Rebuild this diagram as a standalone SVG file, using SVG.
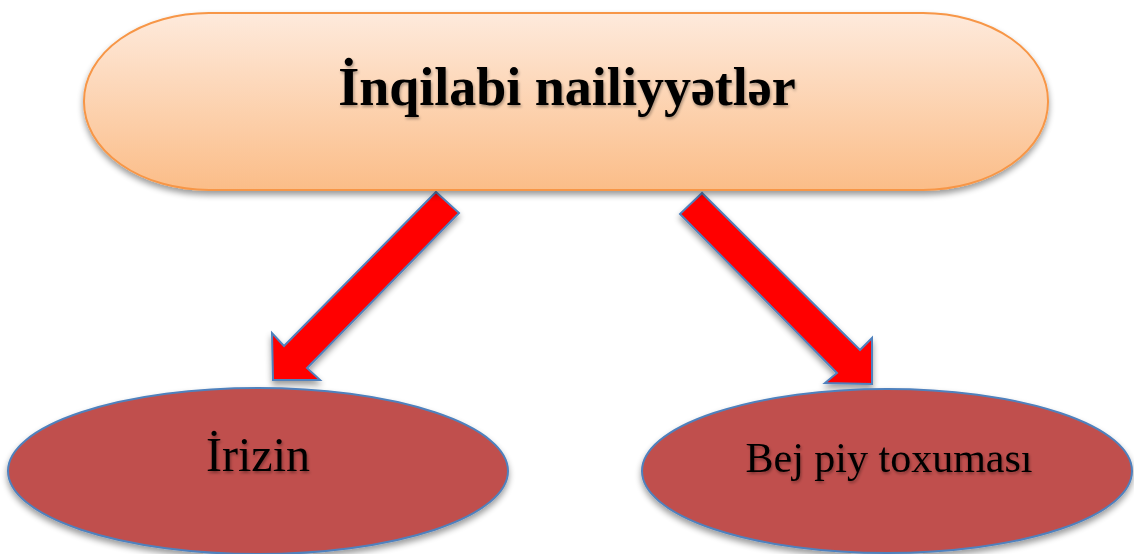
<svg xmlns="http://www.w3.org/2000/svg" width="1134" height="554" viewBox="0 0 1134 554">
<defs>
<linearGradient id="peach" x1="0" y1="0" x2="0" y2="1">
<stop offset="0" stop-color="#feeadc"/>
<stop offset="1" stop-color="#fbbd88"/>
</linearGradient>
<filter id="sh" x="-10%" y="-10%" width="120%" height="130%">
<feGaussianBlur in="SourceAlpha" stdDeviation="3"/>
<feOffset dx="0" dy="4" result="b"/>
<feComponentTransfer><feFuncA type="linear" slope="0.4"/></feComponentTransfer>
<feMerge><feMergeNode/><feMergeNode in="SourceGraphic"/></feMerge>
</filter>
<filter id="tsh" x="-10%" y="-10%" width="120%" height="130%">
<feGaussianBlur in="SourceAlpha" stdDeviation="1.5"/>
<feOffset dx="1" dy="2"/>
<feComponentTransfer><feFuncA type="linear" slope="0.35"/></feComponentTransfer>
<feMerge><feMergeNode/><feMergeNode in="SourceGraphic"/></feMerge>
</filter>
</defs>
<style>
.pill{fill:url(#peach);stroke:#f79646;stroke-width:2}
.oval{fill:#c0504d;stroke:#4f81bd;stroke-width:2}
.arrow{fill:#ff0000;stroke:#4f81bd;stroke-width:2;stroke-linejoin:miter}
.t{font-family:"Liberation Serif","Times New Roman",serif;fill:#000;text-anchor:middle}
</style>
<rect width="1134" height="554" fill="#ffffff"/>
<g id="connectors">
<polygon class="arrow" filter="url(#sh)" points="436,192 459,213 307,368 320,380 273,380 272,333 284,346"/>
<polygon class="arrow" filter="url(#sh)" points="702,193 680,214 837,373 825,383 872,384 872,338 860,350"/>
</g>
<g id="node-top">
<rect class="pill" filter="url(#sh)" x="84" y="13" width="964" height="177" rx="125" ry="88"/>
<text class="t" x="567" y="105" font-size="54" font-weight="bold" filter="url(#tsh)">İnqilabi nailiyyətlər</text>
</g>
<g id="node-irizin">
<ellipse class="oval" filter="url(#sh)" cx="258" cy="471" rx="250" ry="83"/>
<text class="t" x="258" y="471" font-size="48" filter="url(#tsh)">İrizin</text>
</g>
<g id="node-bej">
<ellipse class="oval" filter="url(#sh)" cx="887" cy="471" rx="245" ry="82"/>
<text class="t" x="889" y="472" font-size="42" filter="url(#tsh)">Bej piy toxuması</text>
</g>
</svg>
